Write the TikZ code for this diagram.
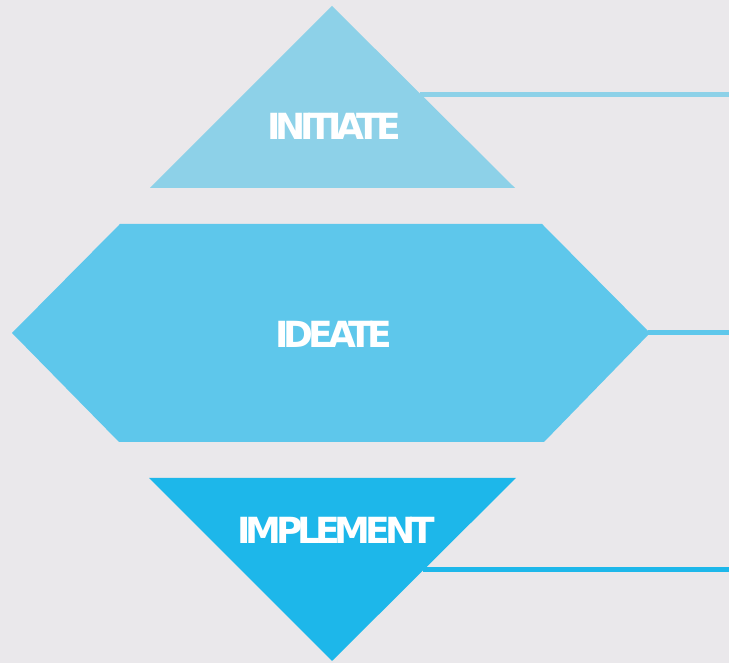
\documentclass[tikz,border=0pt]{standalone}
\usepackage{fontspec}
\setmainfont{DejaVu Sans}
\newfontfamily\labelfont[LetterSpace=-14]{DejaVu Sans Bold}
\definecolor{bg}{HTML}{EAE8EB}
\definecolor{cone}{HTML}{8DD1E8}
\definecolor{ctwo}{HTML}{5EC7EB}
\definecolor{cthree}{HTML}{1DB7EA}
\tikzset{
  lbl/.style={text=white, font=\labelfont\fontsize{36}{40}\selectfont, inner sep=0pt},
  conn/.style={line width=5pt}
}
\begin{document}
\begin{tikzpicture}[x=1pt,y=1pt]
\fill[bg] (0,0) rectangle (729,663);
\useasboundingbox (0,0) rectangle (729,663);
% top triangle
\fill[cone] (332,657) -- (515,475) -- (150,475) -- cycle;
\coordinate (t1) at (420,568);
\coordinate (e1) at (729,568);
\draw[conn,cone] (t1) -- (e1);
\node[lbl] (initiate) at (334,537) {INITIATE};
% hexagon
\fill[ctwo] (12,330) -- (120,439) -- (542,439) -- (650,330) -- (544,221) -- (119,221) -- cycle;
\coordinate (t2) at (648,330);
\coordinate (e2) at (729,330);
\draw[conn,ctwo] (t2) -- (e2);
\node[lbl] (ideate) at (334,329) {IDEATE};
% bottom triangle
\fill[cthree] (149,185) -- (516,185) -- (332,2) -- cycle;
\coordinate (t3) at (423,93);
\coordinate (e3) at (729,93);
\draw[conn,cthree] (t3) -- (e3);
\node[lbl] (implement) at (336,133) {IMPLEMENT};
\end{tikzpicture}
\end{document}
